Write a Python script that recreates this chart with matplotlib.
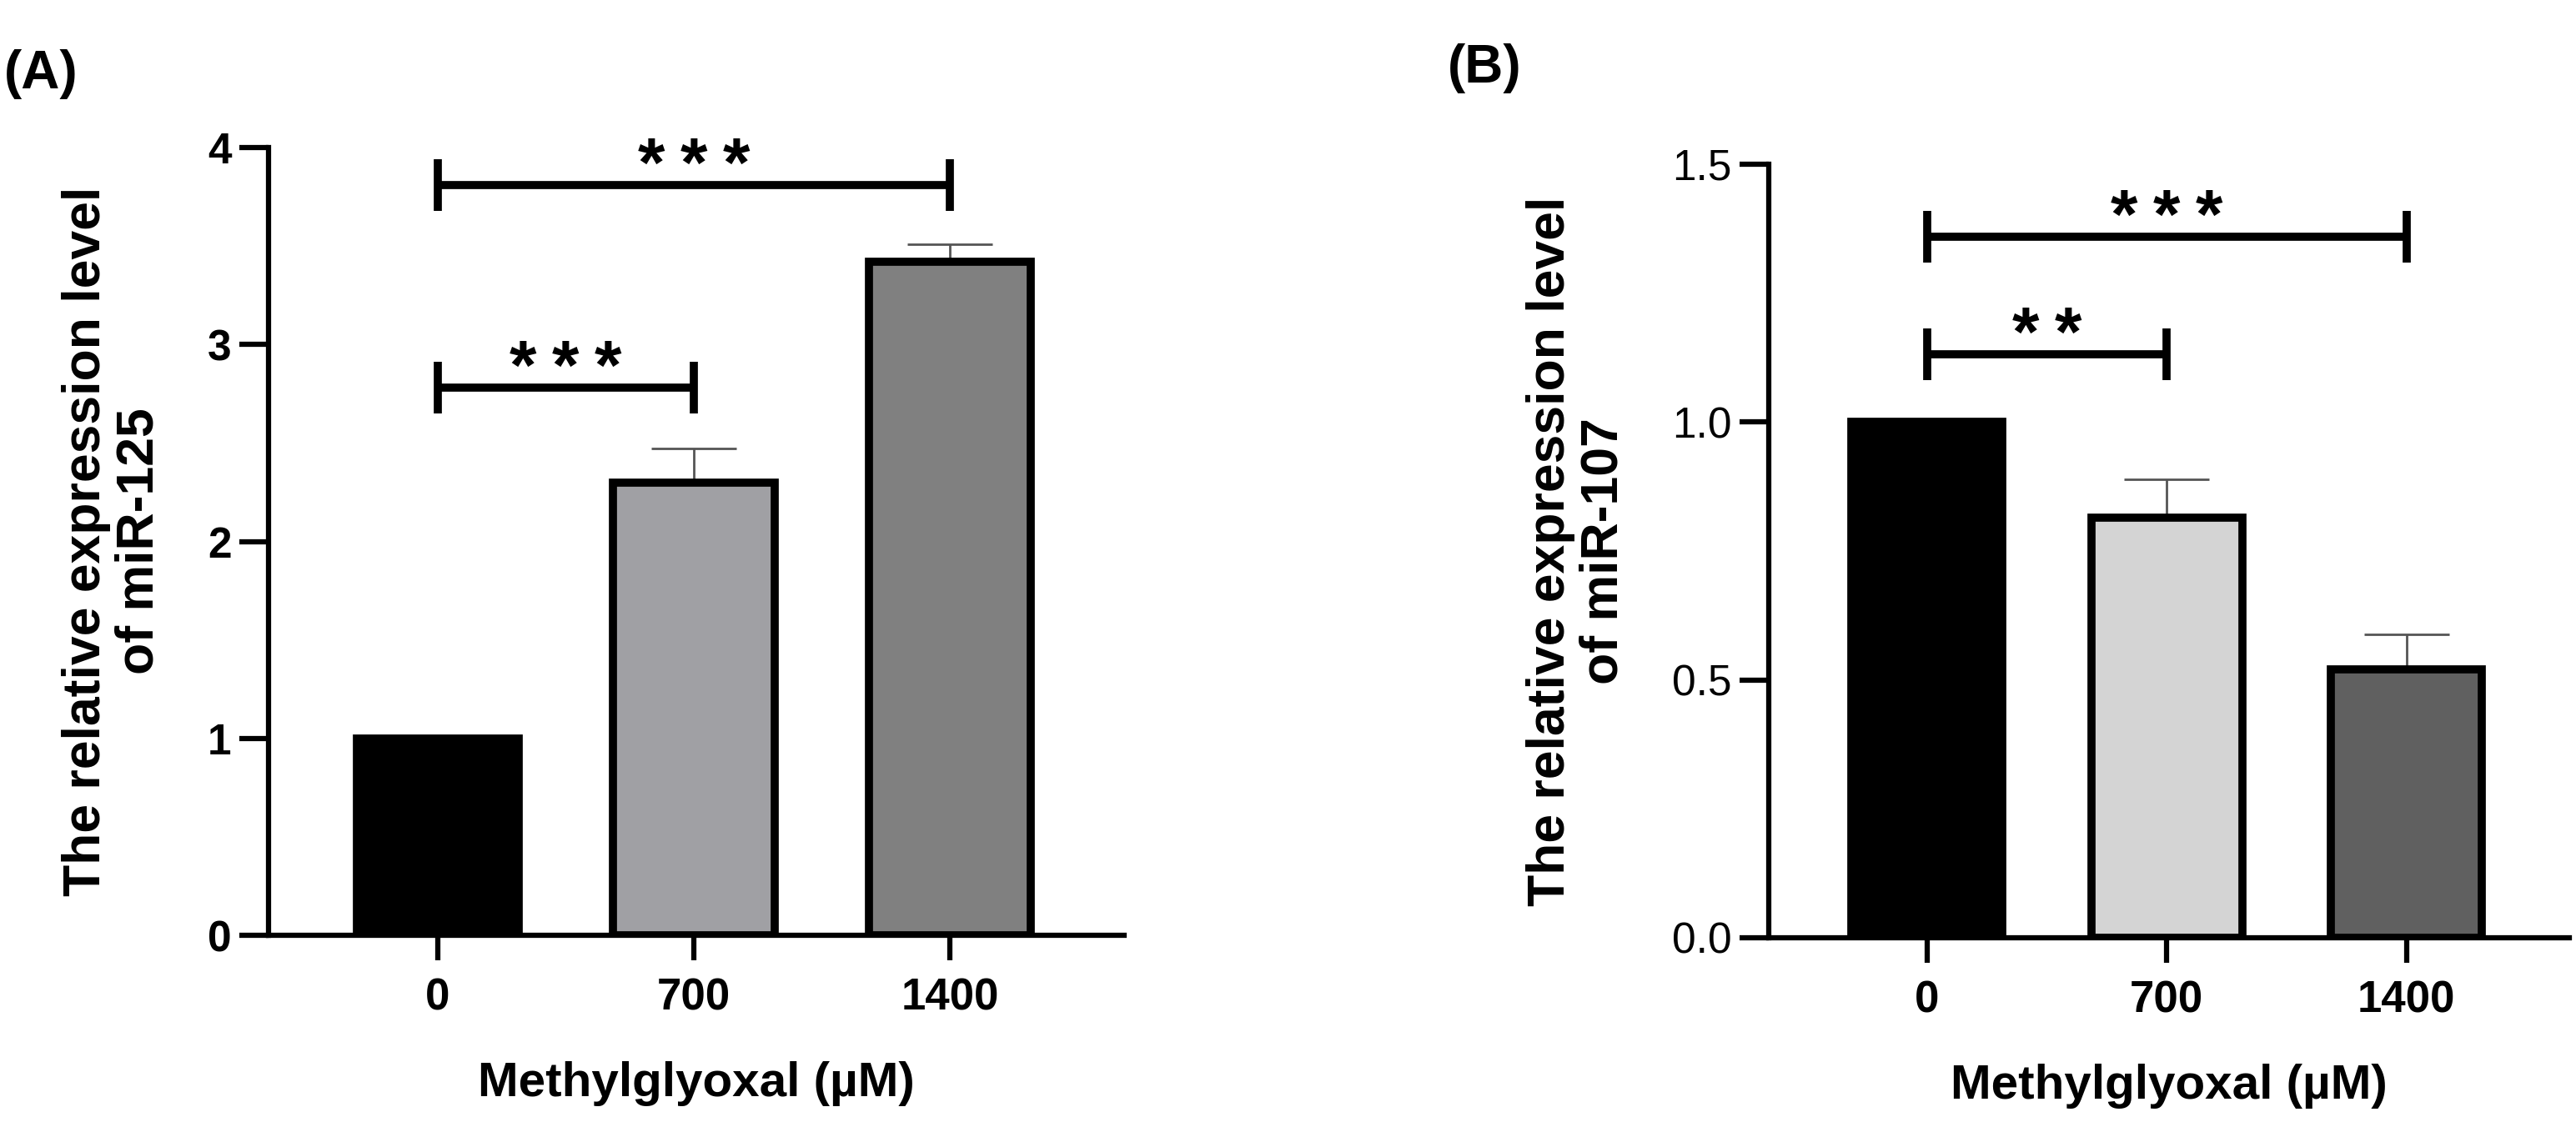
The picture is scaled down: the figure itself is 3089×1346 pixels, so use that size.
import matplotlib
matplotlib.use('Agg')
import matplotlib.pyplot as plt

plt.rcParams['font.family'] = ['Liberation Sans', 'DejaVu Sans']

# ---------------- data ----------------
categories = ['0', '700', '1400']
mir125_mean = [1.0, 2.30, 3.42]
mir125_err = [0.0, 0.17, 0.09]
mir107_mean = [1.0, 0.815, 0.52]
mir107_err = [0.0, 0.074, 0.068]
colors_a = ['#000000', '#a0a0a4', '#808080']
colors_b = ['#000000', '#d4d4d4', '#606060']
# significance brackets: (from index, to index, bracket height, label)
sig_a = [(0, 1, 2.78, '***'), (0, 2, 3.81, '***')]
sig_b = [(0, 1, 1.132, '**'), (0, 2, 1.36, '***')]
yticks_a = [0, 1, 2, 3, 4]
yticks_b = [0.0, 0.5, 1.0, 1.5]
ylabel_a = 'The relative expression level\nof miR-125'
ylabel_b = 'The relative expression level\nof miR-107'
xlabel = 'Methylglyoxal (\u00b5M)'

W, H = 3089, 1346
DPI = 100
fig = plt.figure(figsize=(W / DPI, H / DPI), dpi=DPI)


def px2pt(p):
    return p * 72.0 / DPI


def panel(rect, means, errs, colors, sigs, yticks, ylim, ylabel, ytick_bold, ytick_fmt):
    ax = fig.add_axes(rect)
    x = list(range(len(categories)))
    ax.bar(x, means, width=0.63, color=colors, edgecolor='black',
           linewidth=7, zorder=3)
    lower = [0.0] * len(means)
    ax.errorbar(x, means, yerr=[lower, errs], fmt='none', ecolor='#555555',
                elinewidth=2, capsize=37, capthick=2, zorder=2)
    ax.set_xlim(-0.66, 2.68)
    ax.set_ylim(*ylim)
    ax.set_xticks(x)
    ax.set_xticklabels(categories, fontsize=38, fontweight='bold')
    ax.set_yticks(yticks)
    ax.set_yticklabels([ytick_fmt(v) for v in yticks], fontsize=37,
                       fontweight='bold' if ytick_bold else 'normal')
    for s in ['top', 'right']:
        ax.spines[s].set_visible(False)
    for s in ['left', 'bottom']:
        ax.spines[s].set_linewidth(4.5)
    ax.tick_params(axis='y', length=25, width=4.5, pad=7)
    ax.tick_params(axis='x', length=21.6, width=4.5, pad=15)
    ax.set_ylabel(ylabel, fontsize=45, fontweight='bold', labelpad=38,
                  linespacing=1.1)
    ax.set_xlabel(xlabel, fontsize=42, fontweight='bold', labelpad=36)

    # bracket tick half length: 32 px in data units
    axh_px = rect[3] * H
    d_per_px = (ylim[1] - ylim[0]) / axh_px
    th = 31 * d_per_px
    for i, j, yb, lab in sigs:
        ax.plot([i, j], [yb, yb], color='black', lw=7, solid_capstyle='butt',
                zorder=4, clip_on=False)
        for xx in (i, j):
            ax.plot([xx, xx], [yb - th, yb + th], color='black', lw=7,
                    solid_capstyle='butt', zorder=4, clip_on=False)
        n = len(lab)
        mid = (i + j) / 2.0
        fs = 60
        for k in range(n):
            dx = (k - (n - 1) / 2.0) * px2pt(51)
            ax.annotate('*', xy=(mid, yb), xytext=(dx, px2pt(46) - 0.575 * fs),
                        textcoords='offset points', ha='center', va='baseline',
                        fontsize=fs, fontweight='bold', annotation_clip=False)
    return ax


rect_a = [322 / W, (H - 1122) / H, (1348 - 322) / W, (1122 - 177) / H]
rect_b = [2121 / W, (H - 1125) / H, (3081 - 2121) / W, (1125 - 197) / H]

panel(rect_a, mir125_mean, mir125_err, colors_a, sig_a, yticks_a, (0, 4),
      ylabel_a, True, lambda v: f'{v:d}')
panel(rect_b, mir107_mean, mir107_err, colors_b, sig_b, yticks_b, (0, 1.5),
      ylabel_b, False, lambda v: f'{v:.1f}')

fig.text(49.5 / W, 1 - 89 / H, '(A)', fontsize=46, fontweight='bold',
         ha='center', va='center')
fig.text(1780 / W, 1 - 82 / H, '(B)', fontsize=46, fontweight='bold',
         ha='center', va='center')

fig.savefig('out.png', dpi=DPI, facecolor='white')
